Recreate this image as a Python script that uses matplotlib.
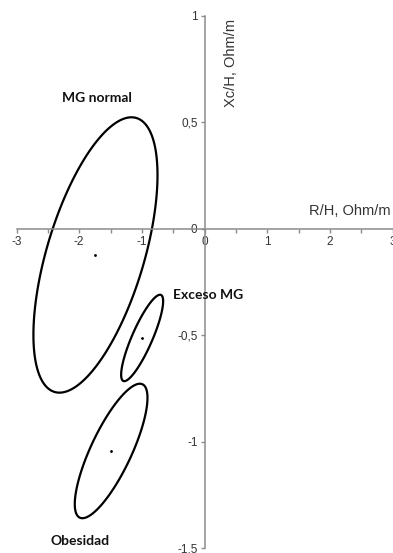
import numpy as np
import matplotlib.pyplot as plt
from matplotlib.patches import Polygon

# tolerance ellipses (center, half-extent in x and y, correlation)
groups = ['MG normal', 'Exceso MG', 'Obesidad']
cx = [-1.74, -0.995, -1.49]
cy = [-0.123, -0.513, -1.044]
sx = [0.99, 0.335, 0.58]
sy = [0.647, 0.203, 0.316]
rho = [0.58, 0.85, 0.79]
# centre dots
dot_x = [-1.75, -1.005, -1.50]
dot_y = [-0.125, -0.513, -1.045]

label_xy = [(-1.71, 0.616), (0.06, -0.31), (-1.99, -1.467)]

xticks = [-3, -2, -1, 0, 1, 2, 3]
yticks = [1, 0.5, 0, -0.5, -1, -1.5]
ytick_labels = ['1', '0,5', '0', '-0,5', '-1', '-1,5']

fig = plt.figure(figsize=(3.93, 5.53), dpi=100)
ax = fig.add_axes([16.5/393, 5/553, 376/393, 532/553])

t = np.linspace(0, 2*np.pi, 400)
for i in range(len(groups)):
    phi = np.arccos(rho[i])
    ex = cx[i] + sx[i]*np.cos(t)
    ey = cy[i] + sy[i]*np.cos(t + phi)
    ax.add_patch(Polygon(np.column_stack([ex, ey]), closed=True, fill=False,
                         edgecolor='black', lw=1.6, joinstyle='round'))
    ax.plot(dot_x[i], dot_y[i], 'o', color='black', ms=1.0)
    ax.text(label_xy[i][0], label_xy[i][1], groups[i], ha='center', va='center',
            fontsize=10, fontweight='bold', family='Lato', color='#111111')

ax.set_xlim(-3, 3)
ax.set_ylim(-1.5, 1)

for s in ['top', 'right']:
    ax.spines[s].set_visible(False)
for s in ['left', 'bottom']:
    ax.spines[s].set_position('zero')
    ax.spines[s].set_color('#8c8c8c')
    ax.spines[s].set_linewidth(1.1)

ax.set_xticks(xticks)
ax.set_xticklabels([str(v) for v in xticks])
ax.set_xticks(np.arange(-3, 3.01, 0.5), minor=True)
ax.set_yticks(yticks)
ax.set_yticklabels(ytick_labels)
ax.tick_params(which='both', direction='out', color='#8c8c8c', width=1.0, length=3,
               labelsize=8.5, labelcolor='#333333', pad=2)
for lab in ax.get_xticklabels() + ax.get_yticklabels():
    lab.set_family('Liberation Sans')
    lab.set_clip_on(False)

ax.text(2.97, 0.085, 'R/H, Ohm/m', ha='right', va='center', fontsize=10.5,
        family='Liberation Sans', color='#333333')
ax.text(0.43, 0.78, 'Xc/H, Ohm/m', ha='center', va='center', rotation=90,
        fontsize=10.5, family='Liberation Sans', color='#333333')

fig.savefig('out.png', dpi=100)
